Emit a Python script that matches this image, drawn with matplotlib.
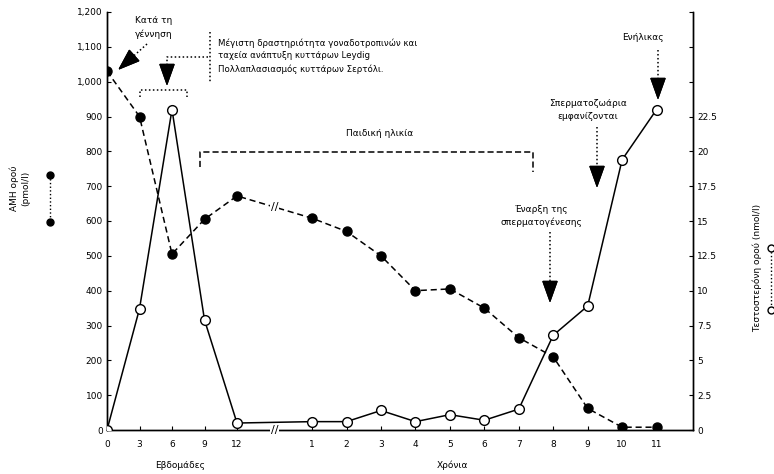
import numpy as np
import matplotlib
matplotlib.use("Agg")
import matplotlib.pyplot as plt
from matplotlib.lines import Line2D

# x categories: weeks after birth, then years
weeks = [0, 3, 6, 9, 12]
years = [1, 2, 3, 4, 5, 6, 7, 8, 9, 10, 11]

# filled series (left axis)
amh_weeks = [1030, 900, 505, 605, 672]
amh_years = [608, 570, 500, 400, 405, 350, 265, 210, 62, 8, 8]

# open series (right axis)
testo_weeks = [0.0, 8.7, 23.0, 7.9, 0.5]
testo_years = [0.6, 0.6, 1.4, 0.6, 1.1, 0.7, 1.5, 6.8, 8.9, 19.4, 23.0]

left_ticks = list(range(0, 1300, 100))
right_ticks = [0, 2.5, 5, 7.5, 10, 12.5, 15, 17.5, 20, 22.5, 25, 27.5, 30]
right_labels = ["0", "2.5", "5", "7.5", "10", "12.5", "15", "17.5", "20", "22.5", "", "", ""]

W, H = 774, 474
FS = 6.5

# positions along the broken x axis
week_pos = np.array(weeks) / 3.0
year_pos = 5.25 + 1.06 * np.array(years)
xpos = np.concatenate([week_pos, year_pos])


def fxy(x, y):
    return x / W, 1 - y / H


fig = plt.figure(figsize=(W / 100, H / 100), dpi=100)
ax = fig.add_axes([107 / W, 1 - 430 / H, (693 - 107) / W, (430 - 12) / H])
ax2 = ax.twinx()

# filled series, dashed
ax.plot(xpos, amh_weeks + amh_years, color="k", lw=1.1, ls=(0, (4, 2.5)),
        marker="o", ms=6.5, mfc="k", mec="k", zorder=3)
# open series, solid
ax2.plot(xpos, testo_weeks + testo_years, color="k", lw=1.1,
         marker="o", ms=7, mfc="white", mec="k", mew=1.0, zorder=3)

# break marks between weeks and years
xb = (week_pos[-1] + year_pos[0]) / 2
ax.text(xb, (amh_weeks[-1] + amh_years[0]) / 2, "//", ha="center", va="center",
        fontsize=8, bbox=dict(fc="white", ec="none", pad=0.2), zorder=4)
ax2.text(xb, 0, "//", ha="center", va="center", fontsize=8,
         bbox=dict(fc="white", ec="none", pad=0.2), zorder=4, clip_on=False)

ax.set_xlim(0, (693 - 107) / 32.5)
ax.set_ylim(0, 1200)
ax2.set_ylim(0, 30)

ax.set_xticks(xpos)
ax.set_xticklabels([str(w) for w in weeks] + [str(y) for y in years], fontsize=FS)
ax.set_yticks(left_ticks)
ax.set_yticklabels([f"{v:,}" for v in left_ticks], fontsize=FS)
ax2.set_yticks(right_ticks)
ax2.set_yticklabels(right_labels, fontsize=FS)

for a in (ax, ax2):
    a.spines["top"].set_visible(False)
    a.tick_params(direction="in", length=3, width=0.8, pad=3)
    for s in a.spines.values():
        s.set_linewidth(1.0)
ax.tick_params(axis="x", pad=7)

# axis labels
fig.text(*fxy(180, 465), "Εβδομάδες", ha="center", va="center", fontsize=FS)
fig.text(*fxy(452, 465), "Χρόνια", ha="center", va="center", fontsize=FS)
fig.text(*fxy(20, 188), "AMH ορού\n(pmol/l)", rotation=90, ha="center",
         va="center", fontsize=FS, linespacing=1.3)
fig.add_artist(Line2D([50 / W, 50 / W], [1 - 175 / H, 1 - 222 / H], color="k",
                      lw=1, ls=":", marker="o", ms=5, mfc="k",
                      transform=fig.transFigure))
fig.text(*fxy(757, 268), "Τεστοστερόνη ορού (nmol/l)", rotation=90, ha="center",
         va="center", fontsize=FS)
fig.add_artist(Line2D([771 / W, 771 / W], [1 - 248 / H, 1 - 310 / H], color="k",
                      lw=1, ls=":", marker="o", ms=5, mfc="white",
                      transform=fig.transFigure))

dot = (0, (1, 1.6))
head = dict(arrowstyle="-|>,head_length=1.4,head_width=0.5", color="k",
            lw=1.0, mutation_scale=10, shrinkA=0, shrinkB=0)


def bracket(pts, ls):
    xs = [p[0] / W for p in pts]
    ys = [1 - p[1] / H for p in pts]
    fig.add_artist(Line2D(xs, ys, color="k", lw=1.1, ls=ls,
                          transform=fig.transFigure))


def note_arrow(x0, y0, x1, y1, hl=19):
    # dotted shaft, solid filled head
    d = np.hypot(x1 - x0, y1 - y0)
    xm = x1 - (x1 - x0) * hl / d
    ym = y1 - (y1 - y0) * hl / d
    bracket([(x0, y0), (xm, ym)], dot)
    fig.add_artist(plt.annotate("", xy=fxy(x1, y1), xytext=fxy(xm, ym),
                                xycoords="figure fraction",
                                textcoords="figure fraction",
                                arrowprops=head))


# birth note
fig.text(*fxy(135, 16), "Κατά τη\nγέννηση", ha="left", va="top", fontsize=FS,
         linespacing=1.6)
note_arrow(147, 44, 118, 70)

# early-infancy note with bracket
fig.text(*fxy(218, 38), "Μέγιστη δραστηριότητα γοναδοτροπινών και\n"
         "ταχεία ανάπτυξη κυττάρων Leydig\n"
         "Πολλαπλασιασμός κυττάρων Σερτόλι.",
         ha="left", va="top", fontsize=6.2, linespacing=1.55)
bracket([(210, 32), (210, 82)], dot)
bracket([(208, 57), (167, 57), (167, 64)], dot)
note_arrow(167, 64, 167, 86)
bracket([(140, 97), (140, 90), (187, 90), (187, 97)], dot)

# childhood bracket
fig.text(*fxy(380, 133), "Παιδική ηλικία", ha="center", va="center", fontsize=FS)
bracket([(200, 167), (200, 152), (533, 152), (533, 172)], (0, (4, 2)))

# puberty notes
fig.text(*fxy(541, 216), "Έναρξη της\nσπερματογένεσης", ha="center",
         va="center", fontsize=FS, linespacing=1.5)
note_arrow(550, 232, 550, 303)
fig.text(*fxy(588, 110), "Σπερματοζωάρια\nεμφανίζονται", ha="center",
         va="center", fontsize=FS, linespacing=1.5)
note_arrow(597, 127, 597, 188)
fig.text(*fxy(643, 38), "Ενήλικας", ha="center", va="center", fontsize=FS)
note_arrow(658, 50, 658, 100)

fig.savefig("out.png", dpi=100)
